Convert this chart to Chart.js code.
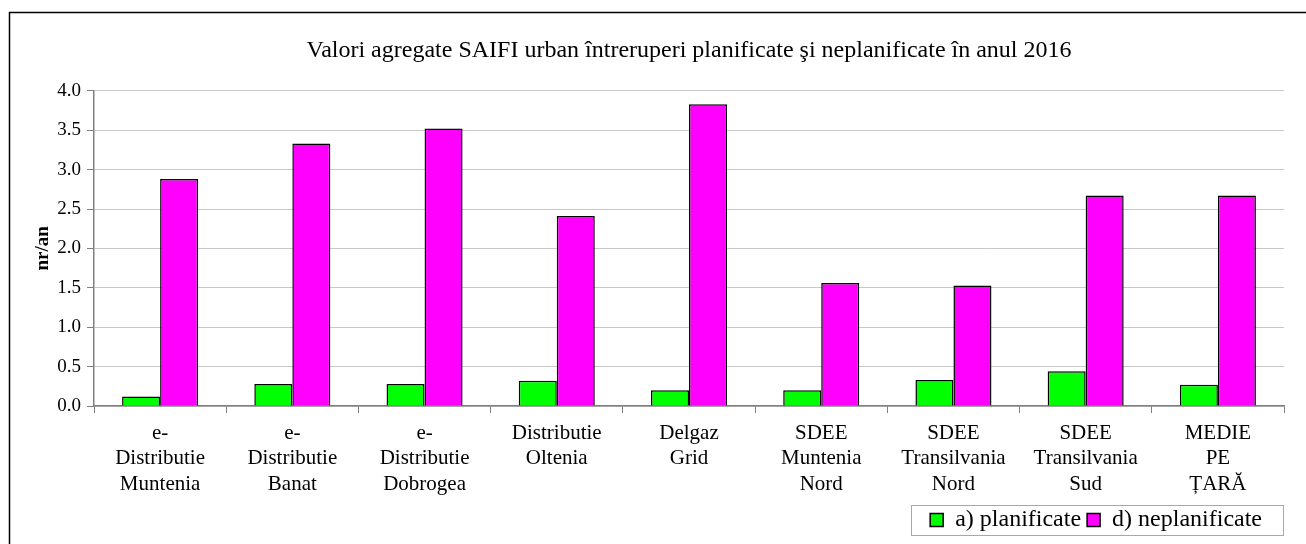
<!DOCTYPE html>
<html>
<head>
<meta charset="utf-8">
<script src="https://cdn.jsdelivr.net/npm/chart.js@4.4.1/dist/chart.umd.min.js"></script>
<style>
  html, body { margin: 0; padding: 0; background: #fff; }
  #wrap { position: relative; width: 1306px; height: 544px; }
</style>
</head>
<body>
<div id="wrap"><canvas id="saifiChart"></canvas></div>
<script>
const categories = [
    ['e-', 'Distributie', 'Muntenia'],
    ['e-', 'Distributie', 'Banat'],
    ['e-', 'Distributie', 'Dobrogea'],
    ['Distributie', 'Oltenia'],
    ['Delgaz', 'Grid'],
    ['SDEE', 'Muntenia', 'Nord'],
    ['SDEE', 'Transilvania', 'Nord'],
    ['SDEE', 'Transilvania', 'Sud'],
    ['MEDIE', 'PE', 'ȚARĂ']
];
const planificate = [0.12, 0.28, 0.28, 0.32, 0.20, 0.20, 0.33, 0.44, 0.27];
const neplanificate = [2.88, 3.33, 3.52, 2.41, 3.83, 1.56, 1.53, 2.67, 2.67];
const yTicks = [0, 0.5, 1.0, 1.5, 2.0, 2.5, 3.0, 3.5, 4.0];

const serif = 'Liberation Serif, Times New Roman, serif';
const legendShift = 16; // legend sits a bit left of the plot's right edge

// frame of the chart (top and left border) and a box round the legend
const framePlugin = {
    id: 'frame',
    afterLayout(chart) {
        const lg = chart.legend;
        if (!lg) return;
        lg.right -= legendShift;
        lg.legendHitBoxes.forEach(h => { h.left -= legendShift; });
    },
    beforeDraw(chart) {
        const c = chart.ctx;
        c.save();
        c.strokeStyle = '#000';
        c.lineWidth = 1.5;
        c.beginPath();
        c.moveTo(9.5, 544);
        c.lineTo(9.5, 12.5);
        c.lineTo(1306, 12.5);
        c.stroke();
        c.restore();
    },
    afterDraw(chart) {
        const lg = chart.legend;
        if (!lg || !lg.legendHitBoxes.length) return;
        const hb = lg.legendHitBoxes;
        const first = hb[0], last = hb[hb.length - 1];
        const x1 = first.left - 19;
        const x2 = last.left + last.width + 21;
        const y1 = first.top - 3;
        const y2 = first.top + first.height + 3;
        const c = chart.ctx;
        c.save();
        c.strokeStyle = '#a8a8a8';
        c.lineWidth = 1;
        c.strokeRect(Math.round(x1) + 0.5, Math.round(y1) + 0.5, Math.round(x2 - x1), Math.round(y2 - y1));
        c.restore();
    }
};

new Chart(document.getElementById('saifiChart').getContext('2d'), {
    type: 'bar',
    data: {
        labels: categories,
        datasets: [
            {
                label: 'a) planificate',
                data: planificate,
                backgroundColor: '#00ff00',
                borderColor: '#000',
                borderWidth: 1.5,
                barPercentage: 1,
                categoryPercentage: 0.575
            },
            {
                label: 'd) neplanificate',
                data: neplanificate,
                backgroundColor: '#ff00ff',
                borderColor: '#000',
                borderWidth: 1.5,
                barPercentage: 1,
                categoryPercentage: 0.575
            }
        ]
    },
    options: {
        responsive: true,
        maintainAspectRatio: false,
        animation: false,
        layout: { padding: { left: 0, right: 22, top: 0, bottom: 2 } },
        plugins: {
            title: {
                display: true,
                fullSize: false,
                text: 'Valori agregate SAIFI urban întreruperi planificate şi neplanificate în anul 2016',
                color: '#000',
                font: { family: serif, size: 24, weight: 'normal', lineHeight: 1.2 },
                padding: { top: 36, bottom: 26 }
            },
            legend: {
                position: 'bottom',
                align: 'end',
                labels: {
                    color: '#000',
                    font: { family: serif, size: 24 },
                    boxWidth: 13,
                    boxHeight: 13,
                    padding: 6
                }
            },
            tooltip: { enabled: false }
        },
        scales: {
            y: {
                min: 0,
                max: 4,
                afterBuildTicks(scale) {
                    scale.ticks = yTicks.map(v => ({ value: v }));
                },
                afterFit(scale) { scale.width = 94; },
                ticks: {
                    color: '#000',
                    font: { family: serif, size: 19 },
                    padding: 6,
                    callback: v => v.toFixed(1)
                },
                grid: {
                    color: '#c8c8c8',
                    tickColor: '#808080',
                    tickLength: 7
                },
                border: { color: '#808080', width: 1.5 },
                title: {
                    display: true,
                    text: 'nr/an',
                    color: '#000',
                    font: { family: serif, size: 19, weight: 'bold', lineHeight: 1.2 },
                    padding: { top: 32, bottom: 0 }
                }
            },
            x: {
                afterFit(scale) { scale.height = 96; },
                ticks: {
                    color: '#000',
                    font: { family: serif, size: 21, lineHeight: 1.2 },
                    maxRotation: 0,
                    autoSkip: false,
                    padding: 8
                },
                grid: {
                    offset: true,
                    drawOnChartArea: false,
                    color: '#808080',
                    tickColor: '#808080',
                    tickLength: 7
                },
                border: { color: '#808080', width: 1.5 }
            }
        }
    },
    plugins: [framePlugin]
});
</script>
</body>
</html>
